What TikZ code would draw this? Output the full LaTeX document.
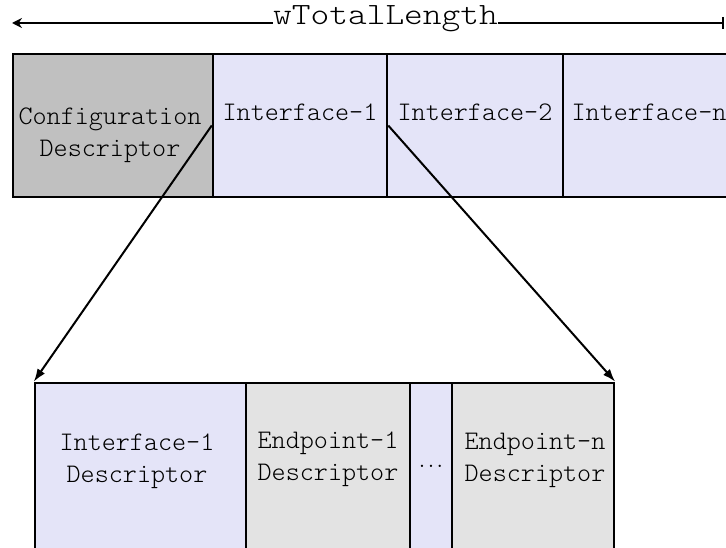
\documentclass[tikz,border=0pt]{standalone}
\usetikzlibrary{arrows.meta,calc}
\definecolor{cfgc}{HTML}{C0C0C0}
\definecolor{ifcc}{HTML}{E4E4F8}
\definecolor{eptc}{HTML}{E3E3E3}
\tikzset{
  box/.style={draw=black, line width=2.5pt, inner sep=0pt, rectangle},
  lbl/.style={inner sep=0pt, align=center, font=\ttfamily\fontseries{l}\fontsize{26.8}{32}\selectfont, text=black},
  conn/.style={line width=2pt, -{Latex[length=13pt,width=9pt]}},
}
\begin{document}
\begin{tikzpicture}[x=1pt,y=-1pt]
\useasboundingbox (0,0) rectangle (726,548);
% top row
\node[box, fill=cfgc, minimum width=200pt, minimum height=143pt] (cfg) at (113,125.5) {};
\node[box, fill=ifcc, minimum width=174pt, minimum height=143pt] (if1) at (300,125.5) {};
\node[box, fill=ifcc, minimum width=176pt, minimum height=143pt] (if2) at (475,125.5) {};
\node[box, fill=ifcc, minimum width=172pt, minimum height=143pt] (ifn) at (649,125.5) {};
\node[lbl] (tcfg) at (110,135) {Configuration\\Descriptor};
\node[lbl] (tif1) at (300,112) {Interface-1};
\node[lbl] (tif2) at (475,112) {Interface-2};
\node[lbl] (tifn) at (649,112) {Interface-n};
% bottom row
\node[box, fill=ifcc, minimum width=211pt, minimum height=180pt] (bif) at (140.5,473) {};
\node[box, fill=eptc, minimum width=164pt, minimum height=180pt] (bep1) at (328,473) {};
\node[box, fill=ifcc, minimum width=42pt, minimum height=180pt] (bdots) at (431,473) {};
\node[box, fill=eptc, minimum width=162pt, minimum height=180pt] (bepn) at (533,473) {};
\node[lbl] (tbif) at (137,461) {Interface-1\\Descriptor};
\node[lbl] (tbep1) at (328,459) {Endpoint-1\\Descriptor};
\node[inner sep=0pt, anchor=base, font=\ttfamily\bfseries\fontsize{17}{17}\selectfont] (tbdots) at (431,467) {...};
\node[lbl] (tbepn) at (535,460) {Endpoint-n\\Descriptor};
% connectors
\draw[conn] (if1.west) -- (bif.north west);
\draw[conn] (if1.east) -- (bepn.north east);
% total length
\node[inner sep=0pt, anchor=base, text=black] (title) at (385.5,25) {\scalebox{1.15}[1]{\ttfamily\fontseries{l}\fontsize{31}{31}\selectfont wTotalLength}};
\coordinate (tl) at (12,23);
\coordinate (tr) at (724,23);
\draw[line width=2.5pt, {Stealth[length=10pt,width=10pt]}-] (tl) -- (tl -| title.west);
\draw[line width=2.5pt, -{Bar[width=12pt]}] (title.east |- tr) -- (tr);
\end{tikzpicture}
\end{document}
